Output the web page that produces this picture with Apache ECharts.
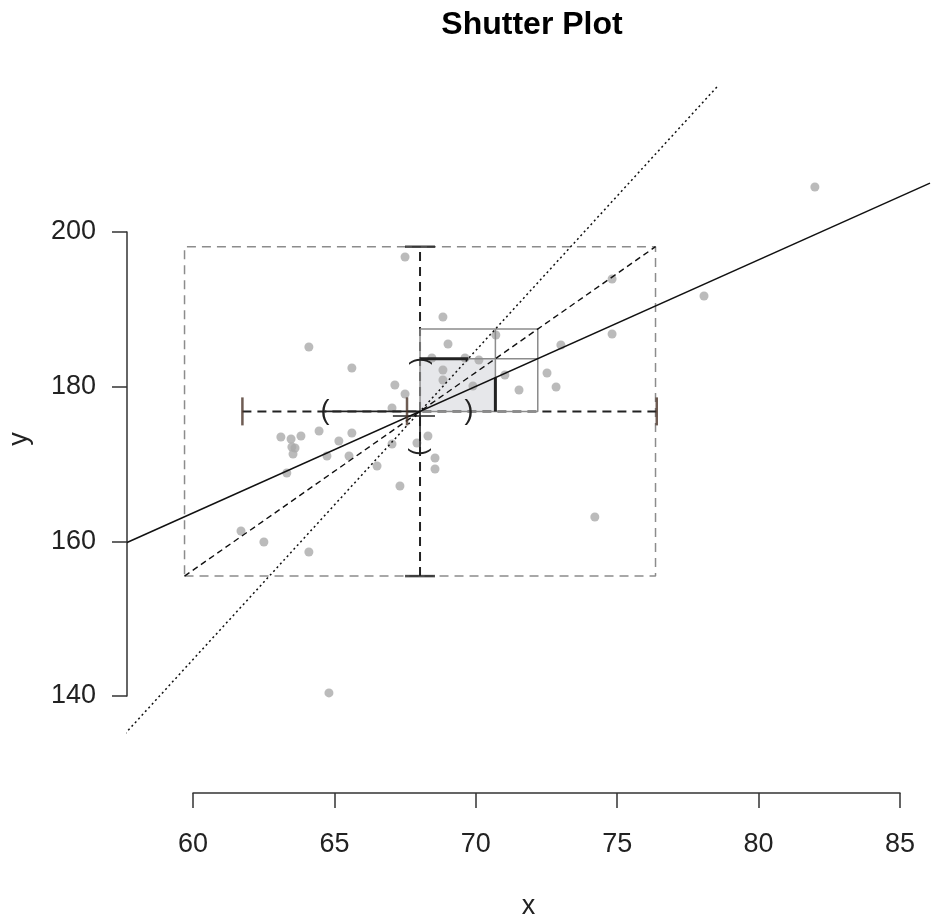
<!DOCTYPE html>
<html>
<head>
<meta charset="utf-8">
<title>Shutter Plot</title>
<script src="https://cdn.jsdelivr.net/npm/echarts@6/dist/echarts.min.js"></script>
<style>
html, body { margin: 0; padding: 0; background: #fff; }
#chart { width: 931px; height: 919px; }
</style>
</head>
<body>
<div id="chart"></div>
<script>
// scatter points
const xs = [67.50, 68.84, 69.02, 64.10, 65.62, 67.14, 67.50, 67.04, 68.45, 69.62, 70.11, 68.84,
  68.84, 69.90, 70.71, 71.03, 71.53, 72.52, 72.84, 73.01, 74.82, 74.82, 78.07, 81.99,
  74.21, 68.31, 67.92, 67.04, 68.56, 68.56, 67.32, 63.11, 63.47, 63.82, 64.46, 65.62,
  65.16, 63.50, 63.61, 63.54, 64.74, 65.52, 66.51, 63.32, 61.70, 62.51, 64.10, 64.81]
const ys = [196.77, 189.01, 185.52, 185.13, 182.41, 180.21, 179.05, 177.24, 183.71, 183.71, 183.45, 182.15,
  180.86, 180.09, 186.68, 181.51, 179.57, 181.77, 179.96, 185.39, 186.81, 193.92, 191.72, 205.82,
  163.15, 173.62, 172.71, 172.58, 170.77, 169.35, 167.15, 173.49, 173.23, 173.62, 174.27, 174.01,
  172.97, 172.20, 172.07, 171.29, 171.03, 171.03, 169.74, 168.84, 161.33, 159.91, 158.62, 140.39]

// summary values (means, sds, correlation)
const xMean = 68.03
const yMean = 176.8
const xSd = 4.163
const ySd = 10.65
const r = 0.64

// interval marks drawn on the mean lines
const xBars = [61.75, 67.57, 76.4]     // '|' marks
const xParens = [64.67, 69.76]         // '(' ')'
const yParens = [171.55, 183.3]        // rotated brackets
const crossBar = [67.07, 68.56, 176.2] // short solid bar under the centre

// plot window and axis ticks
const xRange = [57.67, 86.06]
const yRange = [127.45, 219.01]
const xTicks = [60, 85, 5]
const yTicks = [140, 200, 20]

const FONT = '"Liberation Sans", Arial, sans-serif'
const INK = '#222'

const chart = echarts.init(document.getElementById('chart'))

function poly(pts, style, z) {
  return {
    type: 'line', xAxisIndex: 0, yAxisIndex: 0, data: pts, symbol: 'none',
    lineStyle: style, silent: true, z: z, clip: true
  }
}

const slope = r * ySd / xSd        // y on x
const slopeXY = ySd / (r * xSd)    // x on y, as y = f(x)

// glyphs: '(' ')' on the horizontal, brackets turned on the vertical
const glyphs = [
  { v: [xParens[0], yMean], t: '(', rot: 0, size: 27 },
  { v: [xParens[1], yMean], t: ')', rot: 0, size: 27 },
  { v: [xMean, yParens[1]], t: '(', rot: -Math.PI / 2, size: 23 },
  { v: [xMean, yParens[0]], t: '(', rot: Math.PI / 2, size: 23 }
]

const series = [
  // shaded r*sd box
  {
    type: 'line', xAxisIndex: 0, yAxisIndex: 0, data: [[xMean, yMean]], symbol: 'none',
    lineStyle: { opacity: 0 }, silent: true, z: 1,
    markArea: {
      silent: true,
      itemStyle: { color: '#e6e7ea' },
      data: [[{ coord: [xMean, yMean] }, { coord: [xMean + r * xSd, yMean + r * ySd] }]]
    }
  },
  // points
  {
    type: 'scatter', xAxisIndex: 0, yAxisIndex: 0, symbolSize: 9, z: 2, silent: true,
    itemStyle: { color: '#aaaaaa' },
    data: xs.map((x, i) => [x, ys[i]])
  },
  // 2 sd box
  poly([[xMean - 2 * xSd, yMean - 2 * ySd], [xMean + 2 * xSd, yMean - 2 * ySd],
    [xMean + 2 * xSd, yMean + 2 * ySd], [xMean - 2 * xSd, yMean + 2 * ySd],
    [xMean - 2 * xSd, yMean - 2 * ySd]], { color: '#8c8c8c', width: 1.5, type: [9, 6] }, 3),
  // black dashed cross
  poly([[xMean, yMean - 2 * ySd], [xMean, yMean + 2 * ySd]], { color: INK, width: 2, type: [9, 6] }, 4),
  poly([[xBars[0], yMean], [xBars[2], yMean]], { color: INK, width: 2, type: [9, 6] }, 4),
  // 1 sd grid
  poly([[xMean, yMean], [xMean + xSd, yMean], [xMean + xSd, yMean + ySd],
    [xMean, yMean + ySd], [xMean, yMean]], { color: '#8c8c8c', width: 1.5 }, 5),
  poly([[xMean + r * xSd, yMean], [xMean + r * xSd, yMean + ySd]], { color: '#8c8c8c', width: 1.5 }, 5),
  poly([[xMean, yMean + r * ySd], [xMean + xSd, yMean + r * ySd]], { color: '#8c8c8c', width: 1.5 }, 5),
  // solid parts of the cross
  poly([[xParens[0], yMean], [xMean, yMean]], { color: INK, width: 1.6 }, 6),
  poly([[xMean, yMean], [xMean, yParens[0]]], { color: INK, width: 1.6 }, 6),
  poly([[crossBar[0], crossBar[2]], [crossBar[1], crossBar[2]]], { color: INK, width: 1.6 }, 6),
  // thick r^2 legs
  poly([[xMean, yMean + r * ySd], [xMean + r * r * xSd, yMean + r * ySd]], { color: INK, width: 3 }, 6),
  poly([[xMean + r * xSd, yMean], [xMean + r * xSd, yMean + r * r * ySd]], { color: INK, width: 3 }, 6),
  // regression line
  poly(xRange.map(x => [x, yMean + slope * (x - xMean)]), { color: '#111', width: 1.5 }, 6),
  // sd line
  poly([[xMean - 2 * xSd, yMean - 2 * ySd], [xMean + 2 * xSd, yMean + 2 * ySd]],
    { color: '#111', width: 1.4, type: [6, 4] }, 6),
  // x on y regression
  poly(yRange.map(y => [xMean + (y - yMean) / slopeXY, y]), { color: '#111', width: 1.5, type: [2, 3] }, 6),
  // '|' marks on the horizontal
  {
    type: 'scatter', xAxisIndex: 0, yAxisIndex: 0, symbol: 'rect', symbolSize: [2.5, 28], z: 7, silent: true,
    itemStyle: { color: '#4a3328' },
    data: xBars.map(x => [x, yMean])
  },
  // caps on the vertical
  {
    type: 'scatter', xAxisIndex: 0, yAxisIndex: 0, symbol: 'rect', symbolSize: [30, 2.5], z: 7, silent: true,
    itemStyle: { color: INK },
    data: [[xMean, yMean - 2 * ySd], [xMean, yMean + 2 * ySd]]
  },
  {
    type: 'custom', xAxisIndex: 0, yAxisIndex: 0, z: 8, silent: true,
    data: glyphs.map(g => g.v),
    renderItem(params, api) {
      const p = api.coord([api.value(0), api.value(1)])
      const g = glyphs[params.dataIndex]
      return {
        type: 'text', x: p[0], y: p[1], rotation: g.rot,
        style: { text: g.t, font: g.size + 'px ' + FONT, fill: INK, align: 'center', verticalAlign: 'middle' }
      }
    }
  }
]

const axisStyle = { color: '#333', width: 1.5 }
const labelStyle = { fontSize: 27, color: INK, fontFamily: FONT }

chart.setOption({
  animation: false,
  backgroundColor: '#fff',
  title: {
    text: 'Shutter Plot',
    left: 527,
    top: 4,
    textAlign: 'center',
    textStyle: { fontSize: 32, fontWeight: 'bold', color: '#000', fontFamily: FONT }
  },
  grid: [
    { left: 127, right: 1, top: 85, bottom: 126, outerBoundsMode: 'none', containLabel: false },
    { left: 193, width: 707, top: 85, bottom: 126, outerBoundsMode: 'none', containLabel: false },
    { left: 127, right: 1, top: 232, height: 464, outerBoundsMode: 'none', containLabel: false }
  ],
  xAxis: [
    {
      gridIndex: 0, type: 'value', min: xRange[0], max: xRange[1],
      name: 'x', nameLocation: 'middle', nameGap: 100, nameTextStyle: labelStyle,
      axisLine: { show: false }, axisTick: { show: false }, axisLabel: { show: false }, splitLine: { show: false }
    },
    {
      gridIndex: 1, type: 'value', min: xTicks[0], max: xTicks[1], interval: xTicks[2],
      axisLine: { lineStyle: axisStyle }, axisTick: { length: 15, lineStyle: axisStyle },
      axisLabel: Object.assign({ margin: 38 }, labelStyle), splitLine: { show: false }
    },
    { gridIndex: 2, type: 'value', show: false, min: 0, max: 1 }
  ],
  yAxis: [
    {
      gridIndex: 0, type: 'value', min: yRange[0], max: yRange[1],
      name: 'y', nameLocation: 'middle', nameGap: 94, nameTextStyle: labelStyle,
      axisLine: { show: false }, axisTick: { show: false }, axisLabel: { show: false }, splitLine: { show: false }
    },
    { gridIndex: 1, type: 'value', show: false, min: 0, max: 1 },
    {
      gridIndex: 2, type: 'value', min: yTicks[0], max: yTicks[1], interval: yTicks[2],
      axisLine: { lineStyle: axisStyle }, axisTick: { length: 15, lineStyle: axisStyle },
      axisLabel: Object.assign({ margin: 31 }, labelStyle), splitLine: { show: false }
    }
  ],
  series: series
})
</script>
</body>
</html>
